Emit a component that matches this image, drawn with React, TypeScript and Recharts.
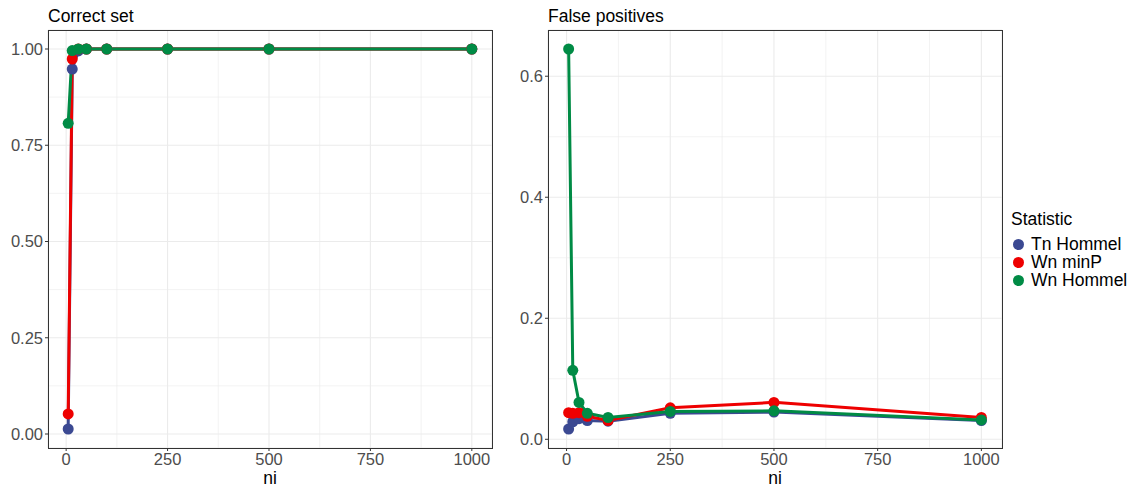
import { LineChart, Line, XAxis, YAxis, CartesianGrid } from 'recharts'

const ni = [5, 15, 30, 50, 100, 250, 500, 1000]

// Correct set
const correctTn = [0.013, 0.948, 0.995, 1.0, 1.0, 1.0, 1.0, 1.0]
const correctMinP = [0.052, 0.974, 1.0, 1.0, 1.0, 1.0, 1.0, 1.0]
const correctWn = [0.807, 0.996, 1.0, 1.0, 1.0, 1.0, 1.0, 1.0]

// False positives
const fpTn = [0.017, 0.029, 0.034, 0.031, 0.030, 0.043, 0.045, 0.031]
const fpMinP = [0.044, 0.043, 0.044, 0.038, 0.031, 0.052, 0.061, 0.036]
const fpWn = [0.645, 0.114, 0.061, 0.043, 0.036, 0.046, 0.047, 0.032]

const series = [
  { key: 'tn', name: 'Tn Hommel', color: '#3B4992' },
  { key: 'minp', name: 'Wn minP', color: '#EE0000' },
  { key: 'wn', name: 'Wn Hommel', color: '#008B45' },
]

const xTicks = [0, 250, 500, 750, 1000]
const xMinor = [125, 375, 625, 875]
const leftTicks = [0, 0.25, 0.5, 0.75, 1.0]
const leftMinor = [0.125, 0.375, 0.625, 0.875]
const rightTicks = [0, 0.2, 0.4, 0.6]
const rightMinor = [0.1, 0.3, 0.5]

const FONT = '"Liberation Sans", Arial, sans-serif'

const build = (a: number[], b: number[], c: number[]) =>
  ni.map((n, i) => ({ ni: n, tn: a[i], minp: b[i], wn: c[i] }))

// ggplot-style 5% expansion
const expand = (vals: number[]): [number, number] => {
  const lo = Math.min(...vals), hi = Math.max(...vals)
  const d = (hi - lo) * 0.05
  return [lo - d, hi + d]
}

const xDomain = expand(ni)

interface PanelProps {
  left: number
  title: string
  data: any[]
  yDomain: [number, number]
  yTicks: number[]
  yMinor: number[]
  fmt: (v: number) => string
}

function Panel({ left, title, data, yDomain, yTicks, yMinor, fmt }: PanelProps) {
  const W = left === 0 ? 500 : 510
  const plotL = left + 48
  const plotR = left + W - 8
  return (
    <>
      <div style={{
        position: 'absolute', left: plotL, top: 8, fontSize: 17.5, lineHeight: '16px',
        fontFamily: FONT, color: '#000', whiteSpace: 'nowrap',
      }}>{title}</div>
      <div style={{ position: 'absolute', left, top: 0 }}>
        <LineChart width={W} height={491} data={data}
          margin={{ top: 30, right: 8, left: 0, bottom: 0 }}>
          <CartesianGrid stroke="#EBEBEB" strokeWidth={0.6}
            verticalValues={xMinor} horizontalValues={yMinor} />
          <CartesianGrid stroke="#EBEBEB" strokeWidth={1.1} />
          <XAxis dataKey="ni" type="number" domain={xDomain} ticks={xTicks}
            allowDataOverflow height={43} axisLine={false} tickSize={3} tickMargin={2}
            tickLine={{ stroke: '#333333' }}
            tick={{ fill: '#4D4D4D', fontSize: 16.5, fontFamily: FONT }} />
          <YAxis type="number" domain={yDomain} ticks={yTicks} tickFormatter={fmt}
            allowDataOverflow width={48} axisLine={false} tickSize={3} tickMargin={2}
            tickLine={{ stroke: '#333333' }}
            tick={{ fill: '#4D4D4D', fontSize: 16.5, fontFamily: FONT }} />
          {series.map(s => (
            <Line key={s.key} dataKey={s.key} name={s.name} type="linear"
              stroke={s.color} strokeWidth={3}
              dot={{ r: 5.5, fill: s.color, stroke: s.color, strokeWidth: 0 }}
              isAnimationActive={false} />
          ))}
        </LineChart>
      </div>
      <div style={{
        position: 'absolute', left: plotL, top: 30, width: plotR - plotL - 1, height: 418 - 1,
        border: '1px solid #333333', pointerEvents: 'none',
      }} />
      <div style={{
        position: 'absolute', left: plotL, width: plotR - plotL, top: 470, textAlign: 'center',
        fontSize: 17.5, lineHeight: '16px', fontFamily: FONT, color: '#000',
      }}>ni</div>
    </>
  )
}

export default function App() {
  const leftData = build(correctTn, correctMinP, correctWn)
  const rightData = build(fpTn, fpMinP, fpWn)
  return (
    <div style={{
      position: 'absolute', left: 0, top: 0, width: 1137, height: 491,
      background: '#fff', overflow: 'hidden', fontFamily: FONT,
    }}>
      <Panel left={0} title="Correct set" data={leftData}
        yDomain={expand([...correctTn, ...correctMinP, ...correctWn])}
        yTicks={leftTicks} yMinor={leftMinor} fmt={v => v.toFixed(2)} />
      <Panel left={500} title="False positives" data={rightData}
        yDomain={expand([...fpTn, ...fpMinP, ...fpWn])}
        yTicks={rightTicks} yMinor={rightMinor} fmt={v => v.toFixed(1)} />
      <div style={{ position: 'absolute', left: 1011, top: 211, fontFamily: FONT, color: '#000' }}>
        <div style={{ fontSize: 17.5, lineHeight: '16px', marginBottom: 8 }}>Statistic</div>
        {series.map(s => (
          <div key={s.key} style={{ display: 'flex', alignItems: 'center', height: 18 }}>
            <span style={{
              display: 'inline-block', width: 11, height: 11, borderRadius: 6,
              background: s.color, marginLeft: 2, marginRight: 7,
            }} />
            <span style={{ fontSize: 17.5, lineHeight: '18px' }}>{s.name}</span>
          </div>
        ))}
      </div>
    </div>
  )
}
